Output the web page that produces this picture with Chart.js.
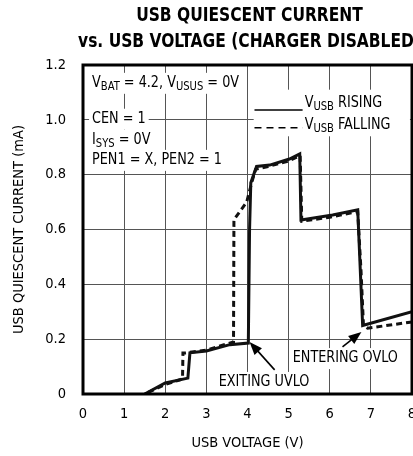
<!DOCTYPE html>
<html>
<head>
<meta charset="utf-8">
<script src="https://cdn.jsdelivr.net/npm/chart.js@4/dist/chart.umd.min.js"></script>
<style>
  html, body { margin: 0; padding: 0; background: #fff; overflow: hidden; }
  #wrap { width: 420px; height: 456px; }
</style>
</head>
<body>
<div id="wrap"><canvas id="c" width="420" height="456"></canvas></div>
<script>
/* USB quiescent current vs USB voltage, charger disabled */

const TITLE_LINES = ['USB QUIESCENT CURRENT', 'vs. USB VOLTAGE (CHARGER DISABLED)'];
const X_TICKS = [0, 1, 2, 3, 4, 5, 6, 7, 8];
const Y_TICKS = [0, 0.2, 0.4, 0.6, 0.8, 1.0, 1.2];

// V_USB rising (solid)
const risingV = [1.5, 2.0, 2.55, 2.6, 3.0, 3.57, 4.02, 4.05, 4.08, 4.22, 4.54, 5.02, 5.27, 5.3, 6.07, 6.68, 6.8, 8.0];
const risingI = [0, 0.04, 0.058, 0.15, 0.157, 0.18, 0.186, 0.6, 0.77, 0.83, 0.835, 0.857, 0.876, 0.635, 0.653, 0.672, 0.25, 0.30];

// V_USB falling (dashed)
const fallingV = [8.0, 6.92, 6.82, 6.76, 6.68, 6.0, 5.32, 5.28, 5.0, 4.5, 4.2, 4.1, 3.98, 3.69, 3.67, 3.66, 3.0, 2.5, 2.43, 2.42, 2.0, 1.5];
const fallingI = [0.263, 0.24, 0.25, 0.45, 0.665, 0.645, 0.63, 0.87, 0.85, 0.83, 0.82, 0.77, 0.70, 0.64, 0.635, 0.19, 0.16, 0.15, 0.15, 0.055, 0.035, 0];

const FONT = '"DejaVu Sans Condensed", "Liberation Sans Narrow", sans-serif';
const SX = 0.89;   // squeeze for the hand-drawn labels

const pts = (xs, ys) => xs.map((x, i) => ({ x, y: ys[i] }));

/* text with subscripts: parts = [[text, isSub], ...] */
function partsWidth(ctx, parts) {
  let w = 0;
  for (const [t, sub] of parts) {
    ctx.font = (sub ? '12.5px ' : '16px ') + FONT;
    w += ctx.measureText(t).width;
  }
  return w * SX;
}

function drawParts(ctx, parts, x, y, bg) {
  const w = partsWidth(ctx, parts);
  if (bg) {
    ctx.fillStyle = '#fff';
    ctx.fillRect(x - 3, y - 10, w + 6, 21);
  }
  ctx.save();
  ctx.translate(x, y);
  ctx.scale(SX, 1);
  ctx.fillStyle = '#000';
  ctx.textBaseline = 'middle';
  ctx.textAlign = 'left';
  let cx = 0;
  for (const [t, sub] of parts) {
    ctx.font = (sub ? '12.5px ' : '16px ') + FONT;
    ctx.fillText(t, cx, sub ? 4 : 0);
    cx += ctx.measureText(t).width;
  }
  ctx.restore();
}

function arrow(ctx, x0, y0, x1, y1) {
  const a = Math.atan2(y1 - y0, x1 - x0);
  const len = 13, half = 5;
  ctx.strokeStyle = '#000';
  ctx.lineWidth = 1.6;
  ctx.beginPath();
  ctx.moveTo(x0, y0);
  ctx.lineTo(x1 - Math.cos(a) * len * 0.8, y1 - Math.sin(a) * len * 0.8);
  ctx.stroke();
  ctx.fillStyle = '#000';
  ctx.beginPath();
  ctx.moveTo(x1, y1);
  ctx.lineTo(x1 - Math.cos(a) * len + Math.sin(a) * half, y1 - Math.sin(a) * len - Math.cos(a) * half);
  ctx.lineTo(x1 - Math.cos(a) * len - Math.sin(a) * half, y1 - Math.sin(a) * len + Math.cos(a) * half);
  ctx.closePath();
  ctx.fill();
}

const decor = {
  id: 'decor',
  afterDatasetsDraw(chart) {
    const { ctx, chartArea: a, scales: { x, y } } = chart;
    const px = v => x.getPixelForValue(v);
    const py = v => y.getPixelForValue(v);
    ctx.save();

    // conditions box
    drawParts(ctx, [['V', 0], ['BAT', 1], [' = 4.2, V', 0], ['USUS', 1], [' = 0V', 0]], px(0.22), py(1.135), true);
    drawParts(ctx, [['CEN = 1', 0]], px(0.22), py(1.004), true);
    drawParts(ctx, [['I', 0], ['SYS', 1], [' = 0V', 0]], px(0.22), py(0.927), true);
    drawParts(ctx, [['PEN1 = X, PEN2 = 1', 0]], px(0.22), py(0.854), true);

    // legend
    ctx.fillStyle = '#fff';
    ctx.fillRect(px(4.15), py(1.11), px(7.95) - px(4.15), py(0.94) - py(1.11));
    ctx.strokeStyle = '#000';
    ctx.lineWidth = 1.5;
    ctx.beginPath();
    ctx.moveTo(px(4.17), py(1.036)); ctx.lineTo(px(5.34), py(1.036));
    ctx.stroke();
    ctx.setLineDash([7, 5]);
    ctx.beginPath();
    ctx.moveTo(px(4.17), py(0.971)); ctx.lineTo(px(5.34), py(0.971));
    ctx.stroke();
    ctx.setLineDash([]);
    drawParts(ctx, [['V', 0], ['USB', 1], [' RISING', 0]], px(5.39), py(1.062), false);
    drawParts(ctx, [['V', 0], ['USB', 1], [' FALLING', 0]], px(5.39), py(0.982), false);

    // callouts
    drawParts(ctx, [['EXITING UVLO', 0]], px(3.30), py(0.044), true);
    arrow(ctx, px(4.66), py(0.088), px(4.05), py(0.19));
    drawParts(ctx, [['ENTERING OVLO', 0]], px(5.10), py(0.131), true);
    arrow(ctx, px(6.31), py(0.172), px(6.77), py(0.226));

    // frame
    ctx.strokeStyle = '#000';
    ctx.lineWidth = 3;
    ctx.strokeRect(a.left, a.top, a.right - a.left, a.bottom - a.top);

    // title (bold, squeezed)
    ctx.fillStyle = '#000';
    ctx.textAlign = 'center';
    ctx.textBaseline = 'middle';
    ctx.font = 'bold 20px ' + FONT;
    for (let i = 0; i < TITLE_LINES.length; i++) {
      ctx.save();
      ctx.translate(249.5, i ? 42 : 16);
      ctx.scale(0.86, 1);
      ctx.fillText(TITLE_LINES[i], 0, 0);
      ctx.restore();
    }
    ctx.restore();
  }
};

new Chart(document.getElementById('c'), {
  type: 'line',
  data: {
    datasets: [
      {
        label: 'V_USB RISING',
        data: pts(risingV, risingI),
        borderColor: '#111', borderWidth: 3, pointRadius: 0, tension: 0, fill: false
      },
      {
        label: 'V_USB FALLING',
        data: pts(fallingV, fallingI),
        borderColor: '#111', borderWidth: 3, borderDash: [6, 4], pointRadius: 0, tension: 0, fill: false
      }
    ]
  },
  options: {
    responsive: false,
    animation: false,
    layout: { padding: { top: 65, right: 8, left: 0, bottom: 0 } },
    plugins: { legend: { display: false }, title: { display: false }, tooltip: { enabled: false } },
    scales: {
      x: {
        type: 'linear', min: 0, max: 8,
        afterFit: s => { s.height = 62; s.paddingLeft = 0; s.paddingRight = 0; },
        afterBuildTicks: s => { s.ticks = X_TICKS.map(v => ({ value: v })); },
        grid: { color: '#555', lineWidth: 1, drawTicks: false },
        border: { display: false },
        ticks: { color: '#000', padding: 12, font: { family: FONT, size: 14.5 }, maxRotation: 0, callback: v => String(v) },
        title: { display: true, text: 'USB VOLTAGE (V)', color: '#000', font: { family: FONT, size: 14.5 }, padding: { top: 0, bottom: 4 } }
      },
      y: {
        type: 'linear', min: 0, max: 1.2,
        afterFit: s => { s.width = 83; s.paddingTop = 0; s.paddingBottom = 0; },
        afterBuildTicks: s => { s.ticks = Y_TICKS.map(v => ({ value: v })); },
        grid: { color: '#555', lineWidth: 1, drawTicks: false },
        border: { display: false },
        ticks: { color: '#000', padding: 17, font: { family: FONT, size: 14.5 }, callback: v => v === 0 ? '0' : v.toFixed(1) },
        title: { display: true, text: 'USB QUIESCENT CURRENT (mA)', color: '#000', font: { family: FONT, size: 14.5 }, padding: { top: 11, bottom: 0 } }
      }
    }
  },
  plugins: [decor]
});
</script>
</body>
</html>
